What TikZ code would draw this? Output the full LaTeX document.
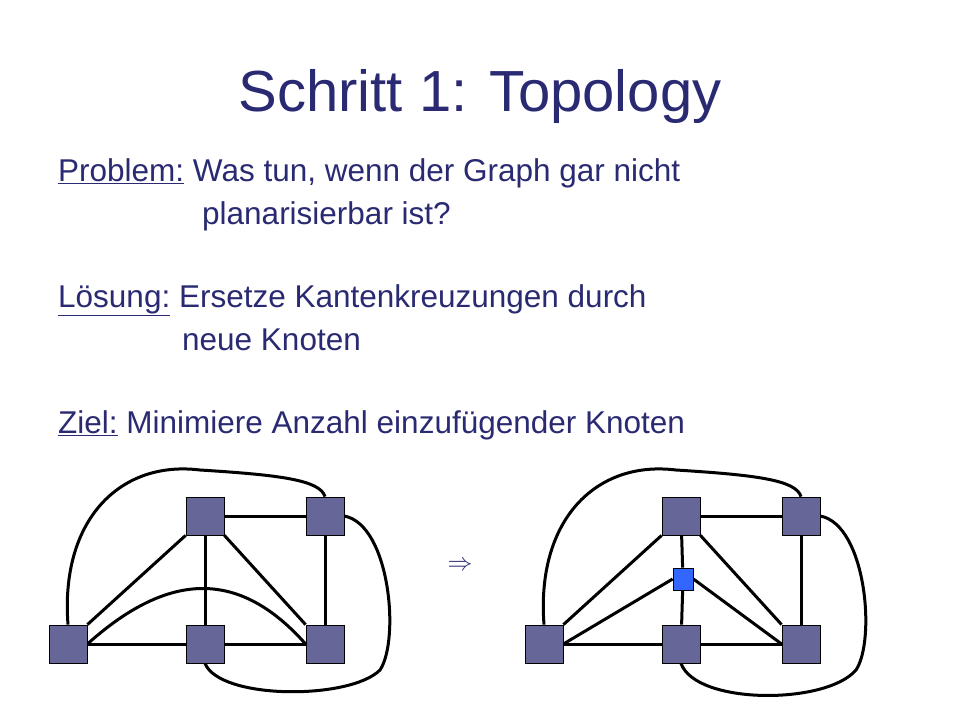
\documentclass[tikz,border=0pt]{standalone}
\usepackage{fontspec}
\setmainfont{Liberation Sans}
\begin{document}
\begin{tikzpicture}[x=1pt,y=-1pt,
  txt/.style={anchor=base west,inner sep=0pt,text=navy,font=\fontsize{31.5}{34}\selectfont},
  knot/.style={draw=black,fill=knotc,minimum width=38pt,minimum height=38pt,inner sep=0pt,line width=0.8pt},
  xknot/.style={draw=black,fill=xblue,minimum width=20pt,minimum height=22pt,inner sep=0pt,line width=0.8pt},
  edge/.style={line width=3pt,black}]
\definecolor{navy}{HTML}{2A2A72}
\definecolor{knotc}{HTML}{666699}
\definecolor{xblue}{HTML}{3366FF}
\useasboundingbox[fill=white] (0,0) rectangle (960,720);
\node[anchor=base,inner sep=0pt,text=navy,font=\fontsize{58}{62}\selectfont] (title) at (480,111) {Schritt 1: Topology};
\node[txt] (p1) at (58,181) {\underline{Problem:}\ Was tun, wenn der Graph gar nicht};
\node[txt] (p2) at (202,224) {planarisierbar ist?};
\node[txt] (l1) at (58,307) {\underline{Lösung:} Ersetze Kantenkreuzungen durch};
\node[txt] (l2) at (182,350) {neue Knoten};
\node[txt] (z1) at (58,433) {\underline{Ziel:} Minimiere Anzahl einzufügender Knoten};
\node[text=navy,font=\fontsize{40}{42}\selectfont,inner sep=0pt] (arr) at (460,566) {$\Rightarrow$};
% left graph
\node[knot] (a) at (68,644) {};
\node[knot] (b) at (205,516) {};
\node[knot] (c) at (325,516) {};
\node[knot] (d) at (205,644) {};
\node[knot] (e) at (325,644) {};
\draw[edge] (b) -- (c);
\draw[edge] (b) -- (d);
\draw[edge] (b.south east) -- (e.north west);
\draw[edge] (c) -- (e);
\draw[edge] (a.north east) -- (b.south west);
\draw[edge] (a.east) -- (d.west);
\draw[edge] (d.east) -- (e.west);
\draw[edge] (a.east) .. controls (170,570) and (240,570) .. (e.west);
\draw[edge] (a.north) .. controls (60,520) and (120,460) .. (200,470) .. controls (280,475) and (320,480) .. (c.north);
\draw[edge] (c.east) .. controls (390,525) and (400,640) .. (380,670) .. controls (350,700) and (220,700) .. (d.south);
% right graph
\node[knot] (a2) at (544,644) {};
\node[knot] (b2) at (681,516) {};
\node[knot] (c2) at (801,516) {};
\node[knot] (d2) at (681,644) {};
\node[knot] (e2) at (801,644) {};
\draw[edge] (b2) -- (c2);
\draw[edge] (c2) -- (e2);
\draw[edge] (b2.south east) -- (e2.north west);
\draw[edge] (a2.north east) -- (b2.south west);
\draw[edge] (a2.east) -- (d2.west);
\draw[edge] (d2.east) -- (e2.west);
\draw[edge] (a2.north) .. controls (536,520) and (596,460) .. (676,470) .. controls (756,475) and (796,480) .. (c2.north);
\draw[edge] (c2.east) .. controls (866,525) and (876,640) .. (856,670) .. controls (826,705) and (696,705) .. (d2.south);
\node[xknot] (x) at (683,579) {};
\draw[edge] (b2) -- (x);
\draw[edge] (x) -- (d2);
\draw[edge] (a2.east) -- (x.west);
\draw[edge] (x.east) -- (e2.west);
% redraw boxes on top of edge ends
\node[knot] (ra) at (a) {};
\node[knot] (rb) at (b) {};
\node[knot] (rc) at (c) {};
\node[knot] (rd) at (d) {};
\node[knot] (re) at (e) {};
\node[knot] (ra2) at (a2) {};
\node[knot] (rb2) at (b2) {};
\node[knot] (rc2) at (c2) {};
\node[knot] (rd2) at (d2) {};
\node[knot] (re2) at (e2) {};
\node[xknot] (rx) at (x) {};
\end{tikzpicture}
\end{document}
